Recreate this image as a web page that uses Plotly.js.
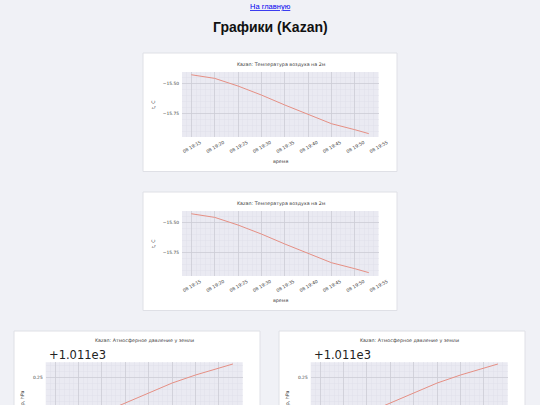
<!DOCTYPE html>
<html>
<head>
<meta charset="utf-8">
<script src="https://cdn.plot.ly/plotly-3.0.1.min.js"></script>
<style>
html,body{margin:0;padding:0;background:#f0f1f6;overflow:hidden;width:540px;height:405px;}
#chart{width:540px;height:405px;}
</style>
</head>
<body>
<div id="chart"></div>
<script>
// ---- data ----
const times = ['2024-01-08 19:15','2024-01-08 19:20','2024-01-08 19:25','2024-01-08 19:30','2024-01-08 19:35','2024-01-08 19:40','2024-01-08 19:45','2024-01-08 19:50','2024-01-08 19:53'];
const temperature = [-15.431,-15.461,-15.525,-15.600,-15.683,-15.764,-15.839,-15.889,-15.922];
const pressure = [1010.786,1010.869,1010.953,1011.036,1011.115,1011.202,1011.269,1011.328,1011.361];
const xTickVals = ['2024-01-08 19:15','2024-01-08 19:20','2024-01-08 19:25','2024-01-08 19:30','2024-01-08 19:35','2024-01-08 19:40','2024-01-08 19:45','2024-01-08 19:50','2024-01-08 19:55'];
const xTickText = ['08 19:15','08 19:20','08 19:25','08 19:30','08 19:35','08 19:40','08 19:45','08 19:50','08 19:55'];
const tempTickVals = [-15.5,-15.75];
const tempTickText = ['\u221215.50','\u221215.75'];
const presTickVals = [1010.75,1011.0,1011.25];
const presTickText = ['\u22120.25','0.00','0.25'];
const tempTitle = 'Kazan: Температура воздуха на 2м';
const presTitle = 'Kazan: Атмосферное давление у земли';
const presOffset = '+1.011e3';

// ---- helpers (pixel -> paper) ----
const W = 540, H = 405;
const px = v => v / W;
const py = v => 1 - v / H;

const lineColor = '#e58f84';
const plotBg = '#eaeaf2';
const majorGrid = '#cdcdd6';
const minorGrid = '#dedee8';
const textColor = '#3a3a3a';
const fontFam = 'DejaVu Sans';

const xRange = ['2024-01-08 19:13:00','2024-01-08 19:55:05'];

function xAxis(x0, x1, anchor, showLabels) {
  return {
    domain: [px(x0), px(x1)], anchor: anchor, type: 'date', range: xRange,
    tickmode: 'array', tickvals: xTickVals, ticktext: xTickText,
    tickangle: -30, ticklabelshift: 9, ticklabelstandoff: 1,
    showticklabels: showLabels,
    tickfont: {size: 4.5, color: textColor, family: fontFam},
    showgrid: true, gridcolor: majorGrid, gridwidth: 0.8,
    minor: {tickmode: 'linear', tick0: '2024-01-08 19:15', dtick: 60000, showgrid: true, gridcolor: minorGrid, gridwidth: 0.4},
    zeroline: false, showline: false, ticks: '', fixedrange: true
  };
}
function yAxis(top, bottom, anchor, range, vals, text, tick0) {
  return {
    domain: [py(bottom), py(top)], anchor: anchor, range: range,
    tickmode: 'array', tickvals: vals, ticktext: text,
    tickfont: {size: 4.4, color: textColor, family: fontFam},
    ticklabelstandoff: 2,
    showgrid: true, gridcolor: majorGrid, gridwidth: 0.8,
    minor: {tickmode: 'linear', tick0: tick0, dtick: 0.05, showgrid: true, gridcolor: minorGrid, gridwidth: 0.4},
    zeroline: false, showline: false, ticks: '', fixedrange: true
  };
}

const tempRange = [-15.95, -15.408];
const presRange = [1011.019, 1011.375];

const traces = [
  {x: times, y: temperature, xaxis: 'x', yaxis: 'y', type: 'scatter', mode: 'lines', line: {color: lineColor, width: 1}, hoverinfo: 'skip'},
  {x: times, y: temperature, xaxis: 'x2', yaxis: 'y2', type: 'scatter', mode: 'lines', line: {color: lineColor, width: 1}, hoverinfo: 'skip'},
  {x: times, y: pressure, xaxis: 'x3', yaxis: 'y3', type: 'scatter', mode: 'lines', line: {color: lineColor, width: 1}, hoverinfo: 'skip'},
  {x: times, y: pressure, xaxis: 'x4', yaxis: 'y4', type: 'scatter', mode: 'lines', line: {color: lineColor, width: 1}, hoverinfo: 'skip'}
];

// card and plot-area geometry (pixels)
const cards = [
  {x0: 143, x1: 397, y0: 53, y1: 171.5},
  {x0: 143, x1: 397, y0: 192, y1: 310.5},
  {x0: 14, x1: 260, y0: 331, y1: 410},
  {x0: 279, x1: 525, y0: 331, y1: 410}
];
const plots = [
  {x0: 182, x1: 378.5, y0: 72, y1: 137},
  {x0: 182, x1: 378.5, y0: 211, y1: 276},
  {x0: 45.7, x1: 242.7, y0: 362.3, y1: 405},
  {x0: 310.7, x1: 507.7, y0: 362.3, y1: 405}
];

const shapes = [];
cards.forEach(c => shapes.push({type: 'rect', xref: 'paper', yref: 'paper', layer: 'below',
  x0: px(c.x0), x1: px(c.x1), y0: py(c.y1), y1: py(c.y0),
  fillcolor: '#ffffff', line: {color: '#dfe0e6', width: 1}}));
plots.forEach(p => shapes.push({type: 'rect', xref: 'paper', yref: 'paper', layer: 'below',
  x0: px(p.x0), x1: px(p.x1), y0: py(p.y1), y1: py(p.y0),
  fillcolor: plotBg, line: {width: 0}}));

function ann(text, x, y, size, opts) {
  return Object.assign({text: text, xref: 'paper', yref: 'paper', x: px(x), y: py(y),
    xanchor: 'center', yanchor: 'middle', showarrow: false,
    font: {size: size, color: textColor, family: fontFam}}, opts || {});
}

const annotations = [
  ann('<u>На главную</u>', 270, 7, 7.5, {font: {size: 7.5, color: '#0000ee', family: 'Liberation Sans'}}),
  ann('<b>Графики (Kazan)</b>', 270, 27, 14, {font: {size: 14, color: '#111111', family: 'Liberation Sans'}}),
  // temperature card 1
  ann(tempTitle, 281, 64.7, 4.8),
  ann('t, C', 153.3, 104.5, 4.8, {textangle: -90}),
  ann('время', 280, 161.7, 4.8),
  // temperature card 2
  ann(tempTitle, 281, 203.7, 4.8),
  ann('t, C', 153.3, 243.5, 4.8, {textangle: -90}),
  ann('время', 280, 300.7, 4.8),
  // pressure card 3
  ann(presTitle, 144, 340, 4.8),
  ann(presOffset, 47, 355, 11.5, {xanchor: 'left', font: {size: 11.5, color: '#222222', family: fontFam}}),
  ann('p, hPa', 22.3, 398, 4.8, {textangle: -90}),
  // pressure card 4
  ann(presTitle, 409, 340, 4.8),
  ann(presOffset, 312, 355, 11.5, {xanchor: 'left', font: {size: 11.5, color: '#222222', family: fontFam}}),
  ann('p, hPa', 287.3, 398, 4.8, {textangle: -90})
];

const layout = {
  width: W, height: H, margin: {l: 0, r: 0, t: 0, b: 0},
  paper_bgcolor: '#f0f1f6', plot_bgcolor: 'rgba(0,0,0,0)',
  showlegend: false,
  font: {family: fontFam, color: textColor},
  xaxis: xAxis(plots[0].x0, plots[0].x1, 'y', true),
  yaxis: yAxis(plots[0].y0, plots[0].y1, 'x', tempRange, tempTickVals, tempTickText, -15.5),
  xaxis2: xAxis(plots[1].x0, plots[1].x1, 'y2', true),
  yaxis2: yAxis(plots[1].y0, plots[1].y1, 'x2', tempRange, tempTickVals, tempTickText, -15.5),
  xaxis3: xAxis(plots[2].x0, plots[2].x1, 'y3', false),
  yaxis3: yAxis(plots[2].y0, plots[2].y1, 'x3', presRange, presTickVals, presTickText, 1011),
  xaxis4: xAxis(plots[3].x0, plots[3].x1, 'y4', false),
  yaxis4: yAxis(plots[3].y0, plots[3].y1, 'x4', presRange, presTickVals, presTickText, 1011),
  shapes: shapes,
  annotations: annotations
};

Plotly.newPlot('chart', traces, layout, {staticPlot: true, displayModeBar: false});
</script>
</body>
</html>
